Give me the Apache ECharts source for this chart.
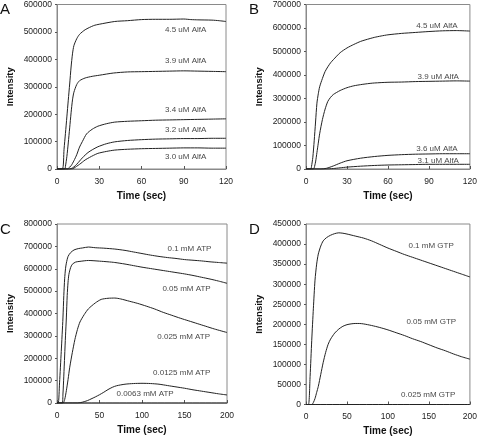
<!DOCTYPE html>
<html><head><meta charset="utf-8">
<script src="https://cdn.jsdelivr.net/npm/echarts@6/dist/echarts.min.js"></script>
<style>html,body{margin:0;padding:0;background:#fff}#c{width:480px;height:440px}</style>
</head><body><div id="c"></div>
<script>
// ---- Panel A (AlfA titration), time (s) vs intensity ----
const a45 = [[0,0],[3.8,0],[5,72000],[6,130000],[7,190000],[8,251000],[9,310000],[10,372000],[11,420000],[12,450000],[14,475000],[16,491000],[20,508000],[26,523000],[30,528000],[41,538000],[50,541000],[60,545000],[70,546000],[80,546000],[90,547000],[95,545000],[100,544000],[110,543000],[115,541000],[120,538000]];
const a39 = [[0,0],[5.5,0],[6,10000],[7,45000],[8,95000],[9,150000],[10,205000],[11,252000],[12,280000],[14,308000],[16,322000],[20,332000],[25,338000],[30,342000],[40,350000],[50,354000],[60,355000],[70,356000],[80,357000],[90,358000],[100,357000],[110,356000],[120,355000]];
const a34 = [[0,0],[7.5,0],[8,2000],[10,12000],[12,30000],[14,52000],[16,80000],[18,100000],[21,128000],[25,145000],[29,156000],[35,165000],[41,171000],[50,174000],[60,176000],[70,178000],[80,179000],[90,180000],[100,181000],[110,182000],[120,183000]];
const a32 = [[0,0],[9,0],[11,4000],[13,12000],[15,23000],[17,35000],[19,46000],[22,60000],[25,70000],[29,81000],[35,92000],[41,99000],[50,104000],[60,107000],[70,109000],[80,110000],[90,111000],[100,111000],[110,112000],[120,112000]];
const a30 = [[0,0],[10.5,0],[12,3000],[14,10000],[16,17000],[18,25000],[20,33000],[23,42000],[26,50000],[29,57000],[35,64000],[41,69000],[50,72000],[60,74000],[70,75000],[80,76000],[90,77000],[100,77000],[110,76000],[120,76000]];
const labelsA = [['4.5 uM AlfA',76.7,508000],['3.9 uM AlfA',76.7,394000],['3.4 uM AlfA',76.7,217000],['3.2 uM AlfA',76.7,142000],['3.0 uM AlfA',76.7,45000]];

// ---- Panel B ----
const b45 = [[0,0],[3.5,0],[4,10000],[5,50000],[6,120000],[7,200000],[8,280000],[9,320000],[10,350000],[12,385000],[14,415000],[16,435000],[18,452000],[20,465000],[25,495000],[30,515000],[35,530000],[40,543000],[45,552000],[50,560000],[55,566000],[60,571000],[70,577000],[80,581000],[90,585000],[100,588000],[110,589000],[120,587000]];
const b39 = [[0,0],[5.5,0],[6,5000],[7,30000],[8,70000],[9,110000],[10,150000],[12,210000],[14,255000],[16,288000],[18,305000],[20,317000],[25,334000],[30,346000],[35,354000],[40,359000],[45,363000],[50,366000],[60,369000],[70,370000],[80,372000],[90,373000],[100,374000],[110,375000],[120,374000]];
const b36 = [[0,0],[11,0],[15,3000],[20,13000],[25,25000],[30,35000],[40,46000],[50,53000],[60,58000],[70,61000],[80,63000],[90,64000],[100,65000],[110,65000],[120,65000]];
const b31 = [[0,0],[14,0],[20,2000],[25,5000],[30,8000],[40,12000],[50,15000],[60,17000],[70,18000],[80,19000],[90,20000],[100,20000],[110,20000],[120,20000]];
const labelsB = [['4.5 uM AlfA',80.7,611000],['3.9 uM AlfA',81.7,392000],['3.6 uM AlfA',80.7,85000],['3.1 uM AlfA',81.7,34000]];

// ---- Panel C (ATP) ----
const c100 = [[0,0],[1.5,0],[3,90000],[5,230000],[7,380000],[8,480000],[9,555000],[10,600000],[11,625000],[13,655000],[16,672000],[20,684000],[25,690000],[30,693000],[37,697000],[45,694000],[55,692000],[68,688000],[80,682000],[90,675000],[100,668000],[110,661000],[120,655000],[130,650000],[140,646000],[150,641000],[160,638000],[170,635000],[180,631000],[190,628000],[200,625000]];
const c050 = [[0,0],[6,0],[7,40000],[8,120000],[9,210000],[10,300000],[11,380000],[12,480000],[13,540000],[14,575000],[16,605000],[18,620000],[22,630000],[27,633000],[37,637000],[50,634000],[60,631000],[68,628000],[80,621000],[90,614000],[100,607000],[110,601000],[120,595000],[130,589000],[140,583000],[150,577000],[160,570000],[170,562000],[180,554000],[190,545000],[200,535000]];
const c025 = [[0,0],[7,0],[9,15000],[11,55000],[13,105000],[15,160000],[18,225000],[21,283000],[24,328000],[27,362000],[32,395000],[37,421000],[45,447000],[52,463000],[60,468000],[68,469000],[75,465000],[85,455000],[95,445000],[105,433000],[115,420000],[125,405000],[135,392000],[145,379000],[155,367000],[165,355000],[175,343000],[185,331000],[200,315000]];
const c0125 = [[0,0],[24,0],[28,2000],[32,6000],[36,11000],[40,18000],[45,27000],[50,37000],[55,48000],[60,60000],[65,70000],[70,77000],[80,84000],[90,87000],[100,88000],[110,87000],[120,84000],[130,78000],[140,72000],[150,66000],[160,59000],[170,53000],[180,47000],[190,41000],[200,36000]];
const c0063 = [[0,0],[100,0],[200,0]];
const labelsC = [['0.1 mM ATP',130,691000],['0.05 mM ATP',124,509000],['0.025 mM ATP',118,294000],['0.0125 mM ATP',113,133000],['0.0063 mM ATP',70,43000]];

// ---- Panel D (GTP) ----
const d100 = [[0,0],[3,0],[5,70000],[7,160000],[9,240000],[11,310000],[13,350000],[15,375000],[18,395000],[21,408000],[25,416000],[30,422000],[35,426000],[40,428000],[45,427000],[50,425000],[60,420000],[70,415000],[80,408000],[90,399000],[100,390000],[110,382000],[120,374000],[130,367000],[140,360000],[150,353000],[160,346000],[170,339000],[180,332000],[190,325000],[200,318000]];
const d050 = [[0,0],[7,0],[9,5000],[11,15000],[13,30000],[15,45000],[18,75000],[21,105000],[24,130000],[27,150000],[30,163000],[35,178000],[40,188000],[45,195000],[50,199000],[55,201000],[60,202000],[65,202000],[70,201000],[80,197000],[90,192000],[100,186000],[110,179000],[120,172000],[130,164000],[140,157000],[150,149000],[160,141000],[170,134000],[180,126000],[190,119000],[200,113000]];
const d025 = [[0,0],[100,0],[200,0]];
const labelsD = [['0.1 mM GTP',125,396000],['0.05 mM GTP',122.5,206000],['0.025 mM GTP',116,24000]];

const FONT = 'Liberation Sans, Arial, sans-serif';
const LINE = '#222';
const FRAME = '#8a8a8a';

const grids = [
  {left:57, top:4, width:169, height:165},
  {left:306, top:4, width:166, height:165},
  {left:57, top:224, width:170, height:179},
  {left:306, top:224, width:166, height:180.5}
].map(g => Object.assign({show:true, borderColor:FRAME, borderWidth:1, backgroundColor:'transparent'}, g));

function xA(i, max, interval){
  return {type:'value', gridIndex:i, min:0, max:max, interval:interval,
    axisLine:{lineStyle:{color:FRAME}}, axisTick:{inside:true, length:3, lineStyle:{color:'#555'}},
    splitLine:{show:false},
    axisLabel:{fontFamily:FONT, fontSize:8.5, color:'#222', margin:8},
    name:'Time (sec)', nameLocation:'middle', nameGap:22,
    nameTextStyle:{fontFamily:FONT, fontSize:10, fontWeight:'bold', color:'#111'}};
}
function yA(i, max, interval){
  return {type:'value', gridIndex:i, min:0, max:max, interval:interval,
    axisLine:{show:true, lineStyle:{color:FRAME}}, axisTick:{show:true, length:2, lineStyle:{color:'#555'}},
    splitLine:{show:false},
    axisLabel:{fontFamily:FONT, fontSize:8.5, color:'#222', margin:5, formatter: v => String(v)},
    name:'Intensity', nameLocation:'middle', nameGap:42,
    nameTextStyle:{fontFamily:FONT, fontSize:9.5, fontWeight:'bold', color:'#111'}};
}

function lineS(data, i){
  return {type:'line', xAxisIndex:i, yAxisIndex:i, data:data, showSymbol:false, symbol:'none',
    smooth:0.25, lineStyle:{color:LINE, width:1}, silent:true, animation:false};
}
function labelS(labels, i){
  return {type:'scatter', xAxisIndex:i, yAxisIndex:i, symbolSize:0, silent:true, animation:false,
    data: labels.map(l => ({name:l[0], value:[l[1], l[2]]})),
    label:{show:true, position:'right', distance:0, formatter:p => p.name,
      fontFamily:FONT, fontSize:8, color:'#111'}};
}

const series = [
  ...[a45,a39,a34,a32,a30].map(d => lineS(d,0)), labelS(labelsA,0),
  ...[b45,b39,b36,b31].map(d => lineS(d,1)), labelS(labelsB,1),
  ...[c100,c050,c025,c0125,c0063].map(d => lineS(d,2)), labelS(labelsC,2),
  ...[d100,d050,d025].map(d => lineS(d,3)), labelS(labelsD,3)
];

const letters = [['A',0,2],['B',249,2],['C',0,222],['D',249,222]];

const chart = echarts.init(document.getElementById('c'), null, {renderer:'canvas'});
chart.setOption({
  animation:false,
  backgroundColor:'#fff',
  grid: grids,
  xAxis: [xA(0,120,30), xA(1,120,30), xA(2,200,50), xA(3,200,50)],
  yAxis: [yA(0,600000,100000), yA(1,700000,100000), yA(2,800000,100000), yA(3,450000,50000)],
  series: series,
  graphic: letters.map(l => ({type:'text', left:l[1], top:l[2],
    style:{text:l[0], fontFamily:FONT, fontSize:15, fill:'#111'}}))
});
</script></body></html>
